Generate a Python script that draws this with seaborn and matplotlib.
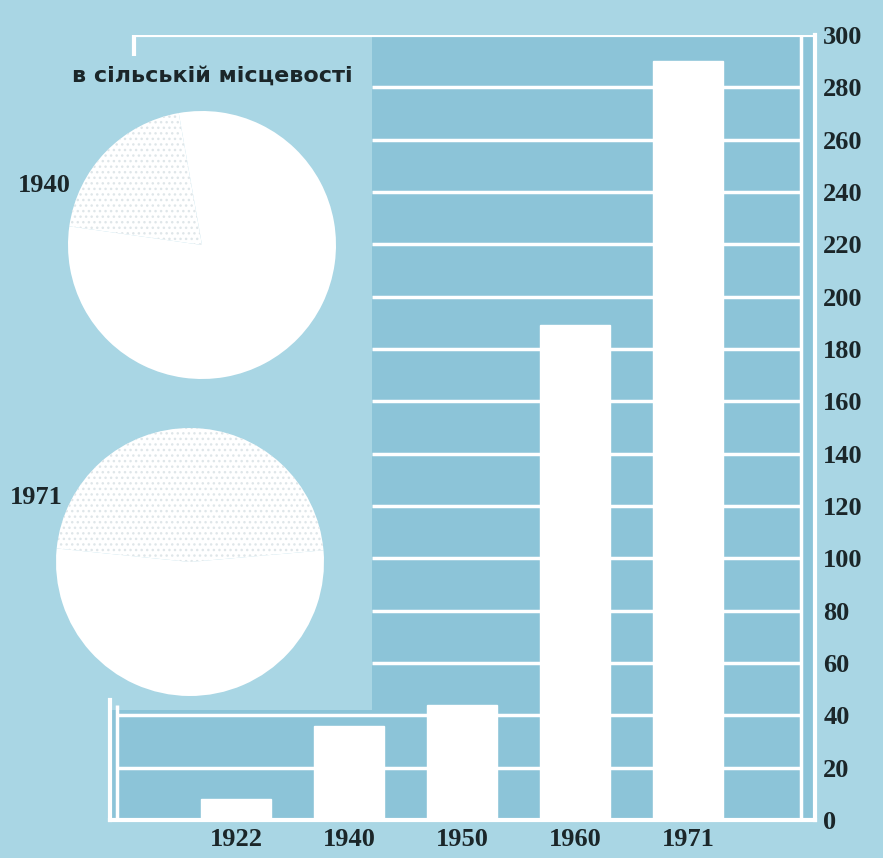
import pandas as pd
import seaborn as sns
import matplotlib.pyplot as plt

# bar chart values
years = ["1922", "1940", "1950", "1960", "1971"]
values = [8, 36, 44, 189, 290]

# pie shares: hatched part = rural share
pie_years = ["1940", "1971"]
pie_rural = [20, 47]
pie_start = [100, 5]

title = "в сільській місцевості"
yticks = list(range(0, 301, 20))

BG = "#a9d6e4"
CELL = "#8cc4d8"
INK = "#1b2629"
W = 883
H = 858

sns.set_style("white")
plt.rcParams["font.family"] = ["DejaVu Sans"]

fig = plt.figure(figsize=(W / 100, H / 100), dpi=100, facecolor=BG)

# main bar axes, placed in pixel terms
left_px, right_px, top_px, bottom_px = 110, 815, 35, 820
ax = fig.add_axes([left_px / W, (H - bottom_px) / H,
                   (right_px - left_px) / W, (bottom_px - top_px) / H])
ax.set_facecolor(BG)

df = pd.DataFrame({"year": years, "value": values})
sns.barplot(data=df, x="year", y="value", order=years, color="white",
            saturation=1, width=0.62, ax=ax, zorder=3)

x0, x1 = -1.115, 5.124
ax.set_xlim(x0, x1)
ax.set_ylim(0, 300)

# darker cells: full width in the low band, right part above it
ax.fill_between([x0, x1], 0, 42, color=CELL, zorder=0, lw=0)
ax.fill_between([1.2, x1], 42, 300, color=CELL, zorder=0, lw=0)

# white gridlines
for t in yticks[1:-1]:
    start = -1.05 if t <= 40 else 1.2
    ax.hlines(t, start, 5.0, color="white", lw=2.5, zorder=1)
ax.hlines(300, -0.9, x1, color="white", lw=3, zorder=1)
ax.vlines(-0.9, 292, 300, color="white", lw=3, zorder=1)
ax.vlines(5.0, 0, 300, color="white", lw=2.5, zorder=1)
ax.vlines(-1.05, 0, 44, color="white", lw=2.5, zorder=1)

ax.spines["top"].set_visible(False)
for side in ["right", "bottom", "left"]:
    ax.spines[side].set_color("white")
    ax.spines[side].set_linewidth(3)
ax.spines["left"].set_bounds(0, 46)

ax.yaxis.tick_right()
ax.set_yticks(yticks)
ax.set_yticklabels([str(t) for t in yticks], family="Liberation Serif",
                   fontweight="bold", fontsize=19, color=INK)
ax.tick_params(axis="y", length=0, pad=6)
ax.set_xticks(range(len(years)))
ax.set_xticklabels(years, family="Liberation Serif", fontsize=19,
                   fontweight="bold", color=INK)
ax.tick_params(axis="x", length=0, pad=6)
ax.set_xlabel("")
ax.set_ylabel("")
ax.grid(False)

# pies on the left
pie_centers = [(202, 245), (190, 562)]
r = 134
plt.rcParams["hatch.linewidth"] = 1.0
for (cx, cy), yr, share, st in zip(pie_centers, pie_years, pie_rural, pie_start):
    pax = fig.add_axes([(cx - r) / W, (H - cy - r) / H, 2 * r / W, 2 * r / H])
    wedges, _ = pax.pie([share, 100 - share], colors=["white", "white"],
                        startangle=st, radius=1,
                        wedgeprops=dict(linewidth=0, edgecolor="#dfe6e9"))
    wedges[0].set_hatch("...")
    wedges[1].set_edgecolor("white")
    pax.set_xlim(-1, 1)
    pax.set_ylim(-1, 1)
    pax.axis("off")

fig.text(44 / W, 1 - 185 / H, "1940", family="Liberation Serif",
         fontweight="bold", fontsize=19, color=INK, ha="center", va="center")
fig.text(36 / W, 1 - 497 / H, "1971", family="Liberation Serif",
         fontweight="bold", fontsize=19, color=INK, ha="center", va="center")
fig.text(212 / W, 1 - 76 / H, title, fontsize=16, fontweight="bold",
         color=INK, ha="center", va="center")

fig.savefig("out.png", dpi=100, facecolor=BG)
